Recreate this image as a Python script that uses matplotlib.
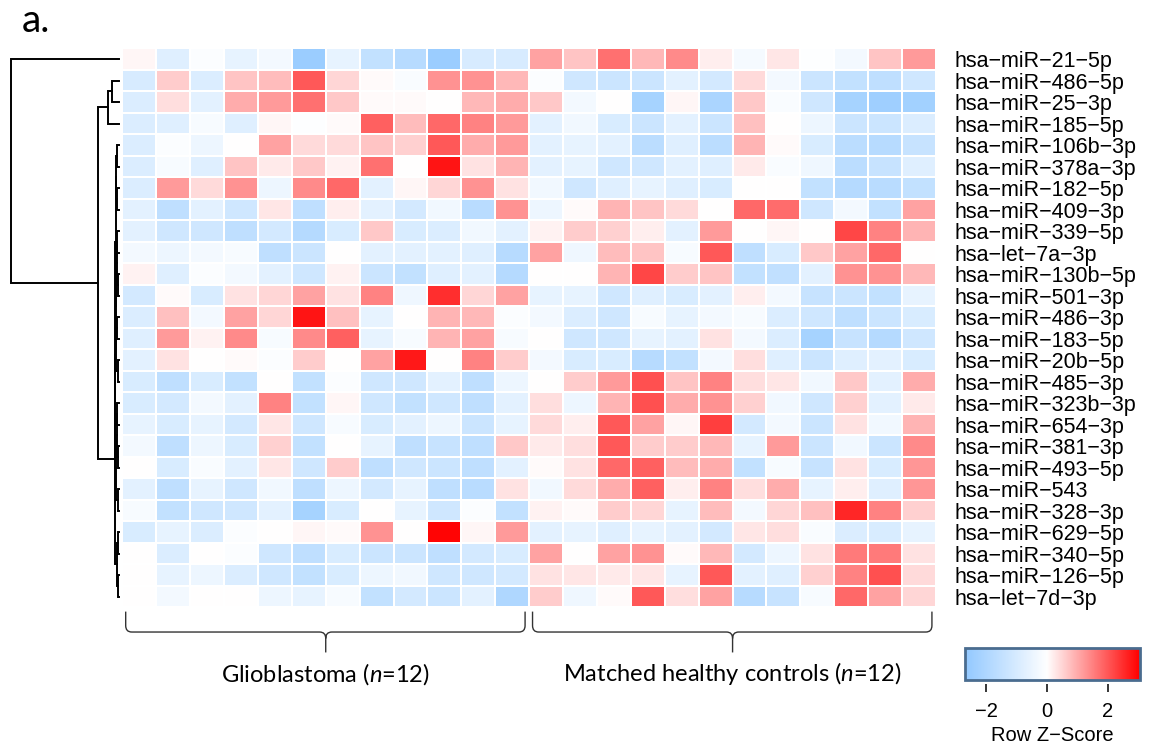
import numpy as np
import matplotlib
matplotlib.use('Agg')
import matplotlib.pyplot as plt
from matplotlib.colors import LinearSegmentedColormap, TwoSlopeNorm
from matplotlib.path import Path
from matplotlib.patches import PathPatch, Rectangle

plt.rcParams['font.family'] = ['Liberation Sans', 'DejaVu Sans']
plt.rcParams['mathtext.fontset'] = 'custom'
plt.rcParams['mathtext.rm'] = 'Lato'
plt.rcParams['mathtext.it'] = 'Lato:italic'

# 행 라벨 (위에서 아래 순서)
mirnas = ['hsa−miR−21−5p', 'hsa−miR−486−5p', 'hsa−miR−25−3p', 'hsa−miR−185−5p',
          'hsa−miR−106b−3p', 'hsa−miR−378a−3p', 'hsa−miR−182−5p', 'hsa−miR−409−3p',
          'hsa−miR−339−5p', 'hsa−let−7a−3p', 'hsa−miR−130b−5p', 'hsa−miR−501−3p',
          'hsa−miR−486−3p', 'hsa−miR−183−5p', 'hsa−miR−20b−5p', 'hsa−miR−485−3p',
          'hsa−miR−323b−3p', 'hsa−miR−654−3p', 'hsa−miR−381−3p', 'hsa−miR−493−5p',
          'hsa−miR−543', 'hsa−miR−328−3p', 'hsa−miR−629−5p', 'hsa−miR−340−5p',
          'hsa−miR−126−5p', 'hsa−let−7d−3p']

groups = ['Glioblastoma', 'Matched healthy controls']
group_sizes = [12, 12]

# row z-scores, 24 samples per row
z = [
    [0.1, -0.8, -0.1, -0.6, -0.3, -2.5, -0.6, -1.5, -1.8, -2.5, -1.0, -1.0, 1.1, 0.7, 1.7, 0.85, 1.4, 0.2, -0.25, 0.3, -0.05, -0.3, 0.7, 1.2],
    [-1.0, 0.6, -0.9, 0.7, 0.8, 2.0, 0.5, 0.05, -0.15, 1.3, 1.3, 0.85, -0.1, -1.2, -1.3, -1.3, -0.7, -1.1, 0.45, -0.3, -1.3, -1.5, -1.6, -1.2],
    [-0.9, 0.4, -0.7, 1.0, 1.2, 1.7, 0.65, 0.05, 0.05, 0.0, 0.85, 1.0, 0.65, -0.3, 0.0, -2.2, 0.1, -2.1, 0.65, -0.15, -1.2, -2.2, -2.4, -2.3],
    [-0.9, -0.8, -0.2, -0.8, 0.1, -0.05, 0.05, 1.9, 0.8, 1.8, 1.5, 1.2, -0.7, -0.35, -0.95, -1.3, -0.7, -1.3, 0.75, 0.0, -0.45, -1.3, -1.3, -0.9],
    [-0.9, -0.1, -0.45, 0.0, 1.1, 0.45, 0.45, 0.7, 0.55, 2.0, 1.0, 1.2, -0.7, -0.6, -0.7, -1.7, -0.8, -1.7, 0.9, 0.05, -0.95, -1.7, -1.8, -1.4],
    [-0.9, -0.2, -0.8, 0.7, 0.25, 0.65, 0.15, 1.7, 0.0, 2.8, 0.35, 0.9, -0.7, -0.6, -1.2, -1.2, -0.7, -0.8, 0.25, -0.15, -0.4, -1.7, -1.4, -0.8],
    [-0.9, 1.2, 0.45, 1.3, -0.45, 1.4, 1.8, -0.7, 0.1, 0.5, 1.3, 0.35, -0.35, -1.2, -0.8, -0.6, -0.8, -0.95, 0.0, 0.0, -1.5, -1.85, -1.75, -1.5],
    [-0.7, -1.6, -0.7, -1.2, 0.3, -1.6, 0.2, -0.7, -1.1, -0.35, -1.75, 1.3, -0.45, 0.05, 0.9, 0.7, 0.45, 0.0, 1.8, 1.75, -1.2, -0.3, -1.5, 1.1],
    [-0.7, -1.2, -1.2, -1.6, -1.1, -1.85, -0.95, 0.65, -0.95, -0.9, -0.35, -0.7, 0.15, 0.6, 0.55, 0.2, -0.7, 1.2, 0.0, 0.1, 0.0, 2.2, 1.5, 0.9],
    [-0.3, -0.45, -0.3, -0.2, -1.6, -1.3, 0.0, -0.7, -0.7, -0.7, -0.8, -1.8, 1.1, -0.4, 0.8, 0.7, -0.2, 2.0, -1.6, -0.95, 0.65, 1.1, 1.8, 0.0],
    [0.15, -0.8, -0.1, -0.3, -0.7, -1.2, 0.15, -1.3, -1.5, -0.8, -0.7, -1.85, 0.0, 0.0, 0.9, 2.2, 0.6, 0.7, -1.5, -1.55, -0.7, 1.3, 1.3, 0.85],
    [-1.1, 0.05, -0.95, 0.35, 0.5, 1.1, 0.35, 1.5, -0.4, 2.5, 0.5, 1.1, -0.6, -0.6, -1.2, -0.8, -0.95, -0.7, 0.2, -0.3, -1.4, -1.3, -1.5, -0.6],
    [-0.9, 0.75, -0.3, 1.1, 0.5, 2.8, 0.75, -0.6, 0.0, 0.9, 0.85, -0.1, -0.3, -0.9, -1.2, -0.2, -0.6, -0.3, -0.2, -0.9, -1.2, -1.6, -1.3, -0.95],
    [-0.8, 1.2, 0.15, 1.4, -0.2, 1.4, 1.9, -0.6, -0.2, 0.9, 1.1, -0.2, 0.0, -1.2, -1.2, -0.6, -0.7, 0.35, -0.3, -0.9, -2.2, -1.4, -1.85, -1.2],
    [-0.7, 0.35, 0.0, 0.05, -0.1, 0.6, 0.0, 1.1, 2.75, 0.0, 1.5, 0.6, -0.3, -0.95, -0.95, -1.8, -1.5, -0.3, 0.4, -0.8, -1.3, -0.8, -0.7, -0.95],
    [-0.95, -1.6, -0.95, -1.5, 0.0, -1.5, -0.1, -1.2, -1.2, -0.7, -1.6, -0.45, 0.0, 0.6, 1.2, 2.1, 0.7, 1.5, 0.4, 0.3, -0.35, 0.65, -0.7, 1.0],
    [-0.95, -1.1, -0.3, -0.7, 1.5, -1.5, 0.1, -1.2, -1.5, -1.2, -1.6, -0.7, 0.4, -0.45, 0.9, 2.1, 1.0, 1.3, 0.55, -0.35, -1.2, 0.55, -0.7, 0.25],
    [-0.6, -0.95, -0.6, -1.1, 0.3, -1.2, -0.2, -0.95, -0.7, -0.45, -1.3, -0.6, 0.45, 0.2, 2.0, 1.1, 0.1, 2.3, -1.1, -0.3, -1.3, 0.35, -0.35, 0.9],
    [-0.3, -1.6, -0.45, -0.95, 0.55, -1.5, 0.0, -0.6, -1.6, -1.4, -1.6, 0.65, 0.25, 0.4, 2.0, 0.6, 0.6, 0.85, -0.6, 1.2, -1.3, -0.35, -1.3, 1.4],
    [0.0, -0.95, -0.15, -0.7, 0.3, -1.2, 0.6, -1.6, -1.2, -1.3, -1.6, -0.7, 0.05, 0.35, 1.8, 1.9, 0.8, 1.0, -1.5, -0.2, -1.4, 0.35, -0.95, 1.25],
    [-0.7, -1.6, -0.6, -1.2, -0.35, -1.6, -0.45, -1.1, -0.6, -1.6, -1.75, 0.35, -0.35, 0.45, 1.0, 1.9, 0.2, 1.5, 0.4, 1.0, -0.6, 0.2, -0.8, 1.25],
    [-0.2, -1.5, -1.2, -1.2, -0.7, -2.2, -0.95, 0.0, -0.6, -1.2, -0.1, -1.5, 0.15, 0.05, 0.6, 0.5, -0.6, 0.8, -0.3, 0.5, 0.75, 2.6, 1.5, 0.55],
    [-0.95, -0.6, -0.9, -0.1, 0.0, 0.1, 0.05, 1.3, 0.0, 3.0, 0.1, 1.2, -0.7, -0.6, -0.8, -0.6, -0.7, -1.1, 0.3, 0.4, -0.15, -0.9, -0.95, -0.6],
    [0.0, -0.9, 0.0, -0.1, -1.2, -1.6, -0.95, -1.3, -1.3, -1.6, -1.1, -0.95, 1.1, 0.0, 1.1, 1.3, 0.05, 0.85, -1.1, -0.45, 0.35, 1.6, 1.6, 0.35],
    [0.0, -0.6, -0.45, -0.9, -1.2, -1.5, -0.95, -0.45, -0.35, -1.2, -1.2, -1.1, 0.35, 0.3, 0.25, 0.3, -0.6, 2.0, -0.7, -0.8, 0.55, 1.5, 2.1, 0.45],
    [0.0, -0.3, 0.0, 0.0, -0.45, -0.6, -0.2, -1.5, -1.1, -1.3, -0.7, -2.0, 0.6, -0.4, 0.05, 2.0, 0.4, 1.1, -1.8, -1.4, -0.2, 1.8, 1.1, 0.5],
]

# row dendrogram merges: (left, right, height); ids >= 26 are earlier merges
linkage = [
    (1, 2, 0.065), (26, 3, 0.105),
    (4, 5, 0.020), (6, 7, 0.018), (28, 29, 0.026),
    (8, 9, 0.015), (10, 11, 0.012), (31, 32, 0.022),
    (12, 13, 0.016), (14, 15, 0.010), (34, 35, 0.024),
    (33, 36, 0.028), (30, 37, 0.031),
    (16, 17, 0.014), (18, 19, 0.011), (39, 40, 0.020),
    (20, 21, 0.013), (41, 42, 0.025), (38, 43, 0.033),
    (22, 23, 0.009), (24, 25, 0.012), (45, 46, 0.019),
    (44, 47, 0.037), (27, 48, 0.192), (0, 49, 1.0),
]

zmin, zmax = -2.7, 3.06

W, H = 1155, 750
fig = plt.figure(figsize=(W / 100, H / 100), dpi=100)

def px_axes(x0, y0, x1, y1):
    return fig.add_axes([x0 / W, 1 - y1 / H, (x1 - x0) / W, (y1 - y0) / H])

cmap = LinearSegmentedColormap.from_list('bwr_soft', ['#93C9FF', '#FFFFFF', '#FF0000'])
norm = TwoSlopeNorm(vmin=zmin, vcenter=0, vmax=zmax)

data = np.array(z)
n_rows, n_cols = data.shape

# heatmap
ax = px_axes(122.3, 48.3, 936, 607.3)
ax.pcolormesh(np.arange(n_cols + 1), np.arange(n_rows + 1), data, cmap=cmap, norm=norm,
              edgecolors='white', linewidth=1.4)
ax.set_xlim(0, n_cols)
ax.set_ylim(n_rows, 0)
for s in ax.spines.values():
    s.set_visible(False)
ax.set_xticks([])
ax.yaxis.tick_right()
ax.set_yticks(np.arange(n_rows) + 0.5)
ax.set_yticklabels(mirnas, fontsize=15.5)
ax.tick_params(axis='y', length=0, pad=13)

# braces + group labels
start = 0
for g, n in zip(groups, group_sizes):
    x0, x1 = start + 0.1, start + n - 0.12
    xc = start + n / 2
    yt, ym, yb = n_rows + 0.2, n_rows + 1.15, n_rows + 2.1
    rx, ry = 0.18, 0.3
    verts = [(x0, yt), (x0, ym - ry), (x0, ym), (x0 + rx, ym), (xc - rx, ym), (xc, ym), (xc, ym + ry), (xc, yb),
             (xc, ym + ry), (xc, ym), (xc + rx, ym), (x1 - rx, ym), (x1, ym), (x1, ym - ry), (x1, yt)]
    codes = [Path.MOVETO, Path.LINETO, Path.CURVE3, Path.CURVE3, Path.LINETO, Path.CURVE3, Path.CURVE3, Path.LINETO,
             Path.MOVETO, Path.CURVE3, Path.CURVE3, Path.LINETO, Path.CURVE3, Path.CURVE3, Path.LINETO]
    ax.add_patch(PathPatch(Path(verts, codes), fill=False, edgecolor='#333333', lw=1.0, clip_on=False))
    ax.text(xc, n_rows + 3.1, g + r' ($\it{n}$=' + str(n) + ')', ha='center', va='center',
            fontsize=17, family=['Lato', 'DejaVu Sans'], clip_on=False)
    start += n

# dendrogram
dax = px_axes(11, 48.3, 119, 607.3)
pos = {i: (i + 0.5, 0.0) for i in range(n_rows)}
for k, (a, b, h) in enumerate(linkage):
    ya, ha = pos[a]
    yb_, hb = pos[b]
    dax.plot([ha, h, h, hb], [ya, ya, yb_, yb_], color='black', lw=1.4, clip_on=False,
             solid_joinstyle='miter')
    pos[n_rows + k] = ((ya + yb_) / 2, h)
dax.set_xlim(1.0, 0.0)
dax.set_ylim(n_rows, 0)
dax.axis('off')

# colour key
cax = px_axes(965, 648, 1140, 680)
grad = np.linspace(zmin, zmax, 400)[None, :]
cax.imshow(grad, aspect='auto', cmap=cmap, norm=norm, extent=[zmin, zmax, 0, 1])
cax.add_patch(Rectangle((0, 0), 1, 1, transform=cax.transAxes, fill=False,
                        edgecolor='#4A6C8F', lw=2.0, clip_on=False))
for s in cax.spines.values():
    s.set_visible(False)
cax.spines['bottom'].set_position(('outward', 3))
cax.set_yticks([])
cax.set_xticks([-2, 0, 2])
cax.tick_params(axis='x', direction='out', length=5.5, width=1.1, labelsize=14.5, pad=7)
cax.set_xlabel('Row Z−Score', fontsize=14.5, labelpad=4)

fig.text(22 / W, 1 - 21 / H, 'a.', fontsize=28, family=['Lato', 'DejaVu Sans'], ha='left', va='center')

fig.savefig('out.png', dpi=100)
